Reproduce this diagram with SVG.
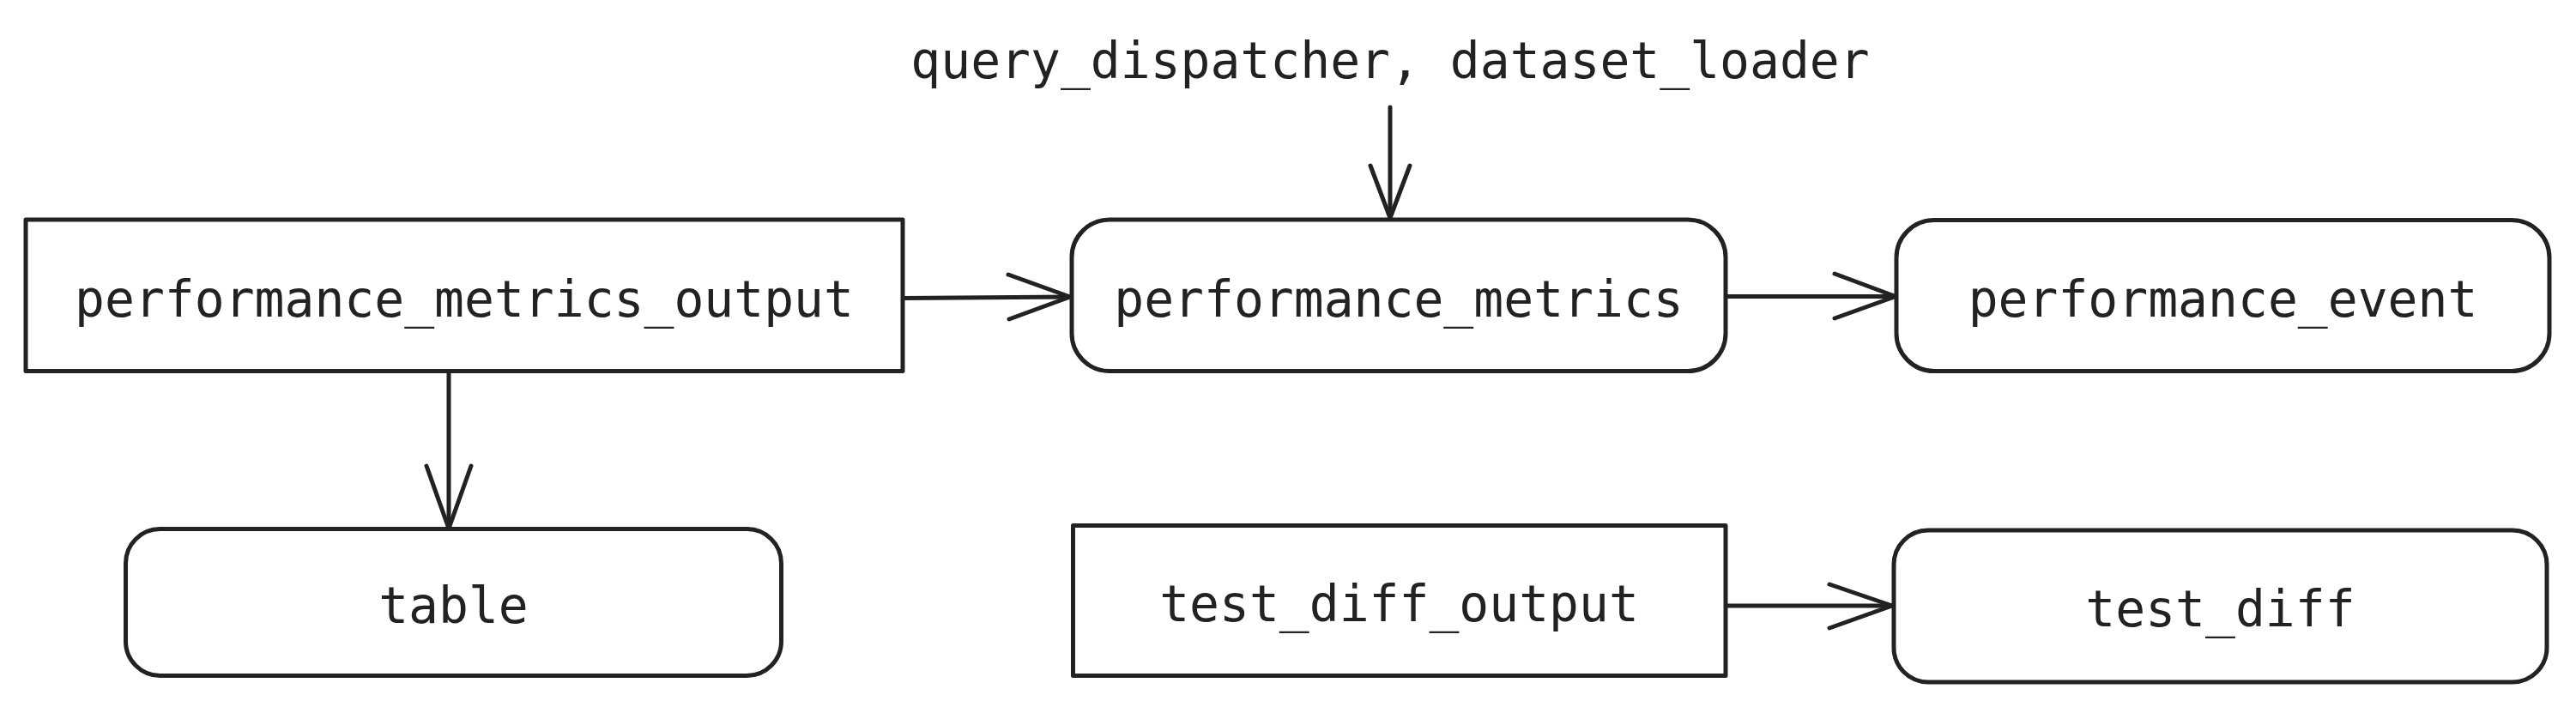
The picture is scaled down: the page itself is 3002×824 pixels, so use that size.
<svg xmlns="http://www.w3.org/2000/svg" width="3002" height="824" viewBox="0 0 3002 824">
<style>
.box{fill:#ffffff;stroke:#222222;stroke-width:5;stroke-linejoin:round}
.lbl{font-family:"DejaVu Sans Mono","Liberation Mono",monospace;font-size:58px;fill:#222222;text-anchor:middle}
.edge{fill:none;stroke:#222222;stroke-width:5;stroke-linecap:round;stroke-linejoin:round}
</style>
<rect x="0" y="0" width="3002" height="824" fill="#ffffff"/>
<g id="connectors">
<g id="e-label-pm"><path class="edge" d="M1620 125 L1620 254"/><path class="edge" d="M1597 193 L1620 254 L1643 193"/></g>
<g id="e-pmo-pm"><path class="edge" d="M1052 347.5 L1247 346"/><path class="edge" d="M1175 320 L1247 346 L1176 372"/></g>
<g id="e-pm-pe"><path class="edge" d="M2011 345.5 L2209 345.5"/><path class="edge" d="M2138 319 L2209 345.5 L2138 371"/></g>
<g id="e-pmo-table"><path class="edge" d="M523 432 L523 616"/><path class="edge" d="M497 543 L523 616 L549 543"/></g>
<g id="e-tdo-td"><path class="edge" d="M2011 706 L2205 706"/><path class="edge" d="M2132 681 L2205 706 L2132 732"/></g>
</g>
<g id="label-sources"><text class="lbl" x="1620" y="91">query_dispatcher, dataset_loader</text></g>
<g id="performance_metrics_output"><rect class="box" x="30" y="256" width="1022" height="176.5"/><text class="lbl" x="541" y="369">performance_metrics_output</text></g>
<g id="performance_metrics"><rect class="box" x="1249" y="256" width="762" height="176.5" rx="44" ry="44"/><text class="lbl" x="1630" y="369">performance_metrics</text></g>
<g id="performance_event"><rect class="box" x="2210" y="256.5" width="761" height="176" rx="44" ry="44"/><text class="lbl" x="2590.5" y="369">performance_event</text></g>
<g id="table"><rect class="box" x="146.5" y="616.5" width="764" height="171" rx="40" ry="40"/><text class="lbl" x="528.5" y="726">table</text></g>
<g id="test_diff_output"><rect class="box" x="1250.5" y="612.5" width="760.5" height="175"/><text class="lbl" x="1630.5" y="724">test_diff_output</text></g>
<g id="test_diff"><rect class="box" x="2207" y="618" width="761" height="177" rx="40" ry="40"/><text class="lbl" x="2587.5" y="730">test_diff</text></g>
</svg>
